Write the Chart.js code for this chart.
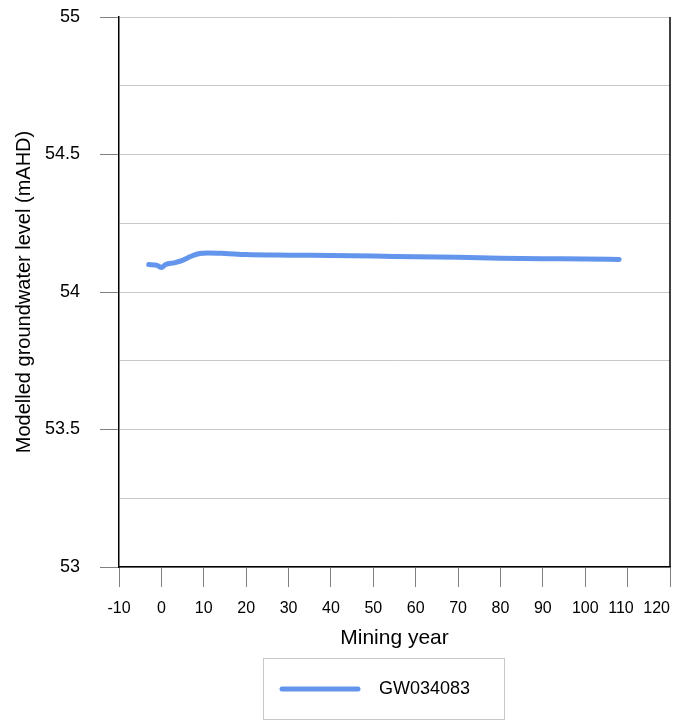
<!DOCTYPE html>
<html>
<head>
<meta charset="utf-8">
<script src="https://cdn.jsdelivr.net/npm/chart.js@4/dist/chart.umd.min.js"></script>
<style>
html,body{margin:0;padding:0;background:#fff;}
#wrap{width:691px;height:726px;position:relative;}
</style>
</head>
<body>
<div id="wrap"><canvas id="c" width="691" height="726"></canvas></div>
<script>
const seriesLabel = "GW034083";
const miningYears = [-3, -1, 0, 1, 3, 5, 7, 9, 11, 15, 20, 30, 40, 50, 60, 70, 80, 90, 100, 108];
const groundwaterLevels = [54.100, 54.097, 54.089, 54.100, 54.106, 54.115, 54.130, 54.140, 54.142, 54.140, 54.136, 54.134, 54.133, 54.131, 54.128, 54.126, 54.123, 54.121, 54.120, 54.118];
const xTickValues = [-10, 0, 10, 20, 30, 40, 50, 60, 70, 80, 90, 100, 110, 120];
const yTickLabels = ["53", "53.5", "54", "54.5", "55"];
const xTitle = "Mining year";
const yTitle = "Modelled groundwater level (mAHD)";

const FONT = "'Liberation Sans', Arial, sans-serif";
const lineColor = "#6495ED";

const points = miningYears.map((x, i) => ({x: x, y: groundwaterLevels[i]}));

const legendPlugin = {
  id: 'boxLegend',
  afterDraw(chart) {
    const ctx = chart.ctx;
    const ds = chart.data.datasets[0];
    ctx.save();
    ctx.strokeStyle = '#c8c8c8';
    ctx.lineWidth = 1;
    ctx.strokeRect(263.5, 658.5, 241, 61);
    ctx.strokeStyle = ds.borderColor;
    ctx.lineWidth = 5;
    ctx.lineCap = 'round';
    ctx.beginPath();
    ctx.moveTo(282, 689);
    ctx.lineTo(358, 689);
    ctx.stroke();
    ctx.fillStyle = '#000';
    ctx.font = "18px " + FONT;
    ctx.textBaseline = 'middle';
    ctx.textAlign = 'left';
    ctx.fillText(ds.label, 379, 689);
    ctx.restore();
  }
};

const framePlugin = {
  id: 'frame',
  afterDatasetsDraw(chart) {
    const a = chart.chartArea;
    const ctx = chart.ctx;
    ctx.save();
    ctx.strokeStyle = '#000';
    ctx.lineWidth = 1.5;
    ctx.beginPath();
    ctx.moveTo(a.right, a.top);
    ctx.lineTo(a.right, a.bottom);
    ctx.stroke();
    ctx.restore();
  }
};

new Chart(document.getElementById('c'), {
  type: 'line',
  data: {
    datasets: [{
      label: seriesLabel,
      data: points,
      borderColor: lineColor,
      backgroundColor: lineColor,
      borderWidth: 5,
      pointRadius: 0,
      borderCapStyle: 'round',
      borderJoinStyle: 'round',
      cubicInterpolationMode: 'monotone',
      fill: false
    }]
  },
  options: {
    responsive: false,
    animation: false,
    devicePixelRatio: 1,
    layout: { padding: { left: 0, right: 21, top: 17, bottom: 71 } },
    plugins: {
      legend: { display: false },
      tooltip: { enabled: false }
    },
    scales: {
      x: {
        type: 'linear',
        min: -10, max: 120,
        afterBuildTicks(scale) { scale.ticks = xTickValues.map(v => ({value: v})); },
        afterFit(scale) { scale.height = 88; scale.paddingLeft = 0; scale.paddingRight = 0; },
        border: { display: true, color: '#000', width: 1.5 },
        grid: { drawOnChartArea: false, drawTicks: true, tickLength: 20, tickColor: '#808080' },
        ticks: {
          color: '#000', font: { family: FONT, size: 16 }, padding: 12, maxRotation: 0, autoSkip: false,
          callback: (v) => v === 120 ? '120      ' : (v === 110 ? '110   ' : String(v))
        },
        title: { display: true, text: xTitle, color: '#000', font: { family: FONT, size: 21 }, padding: { top: 0, bottom: 4 } }
      },
      y: {
        type: 'linear',
        min: 53, max: 55,
        afterBuildTicks(scale) {
          const t = [];
          for (let i = 0; i <= 8; i++) t.push({value: 53 + i * 0.25});
          scale.ticks = t;
        },
        afterFit(scale) { scale.width = 119; scale.paddingTop = 0; scale.paddingBottom = 0; },
        border: { display: true, color: '#000', width: 1.5 },
        grid: {
          drawOnChartArea: true,
          color: '#c8c8c8',
          lineWidth: 1,
          tickLength: 19,
          tickColor: (ctx) => (ctx.tick && Math.abs(ctx.tick.value * 2 - Math.round(ctx.tick.value * 2)) < 1e-6) ? '#808080' : 'rgba(0,0,0,0)'
        },
        ticks: {
          color: '#000',
          font: { family: FONT, size: 18 },
          padding: 20,
          autoSkip: false,
          callback: (v) => {
            const idx = Math.round((v - 53) * 2);
            return (Math.abs((v - 53) * 2 - idx) < 1e-6) ? yTickLabels[idx] : '';
          }
        },
        title: { display: true, text: yTitle, color: '#000', font: { family: FONT, size: 20 }, padding: { top: 12, bottom: 0 } }
      }
    }
  },
  plugins: [legendPlugin, framePlugin]
});
</script>
</body>
</html>
